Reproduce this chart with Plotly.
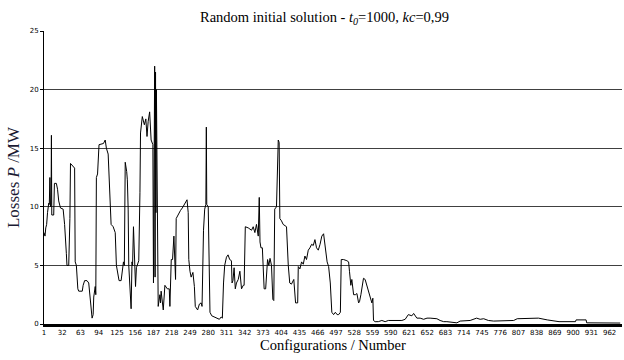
import plotly.graph_objects as go

# Configuration number (x) and losses P / MW (y)
cfg = [1, 2.7, 4, 5.5, 7, 9, 10, 11, 12, 13, 13.6, 14.2, 17.5, 18.7, 22, 24, 26, 29, 33.5, 36, 39, 40, 43, 45, 46,
       50, 53, 54, 56, 58.5, 60, 66, 67.5, 70, 74, 77, 79, 81, 82.7, 84.5, 85.5, 88, 89, 90, 92, 94.5, 102, 105,
       107, 110, 113, 115, 118.5, 122, 124, 126, 128.5, 132, 134, 136, 137.5, 139, 141.5, 142.6, 144, 145, 149,
       150.5, 151.5, 153, 154.5, 156.5, 158, 160, 162, 164, 165, 168, 171.5, 174, 176, 178, 180.5, 183, 186,
       187, 188, 189, 189.7, 190.5, 191.2, 192, 193, 195, 197.9, 199, 200, 203.6, 206.4, 210.5, 213.8, 214.9,
       217.2, 219.4, 221.7, 224.5, 225.6, 228.5, 233, 236, 239, 242, 244, 246, 247, 249, 251, 254, 256.5, 258,
       262, 265, 268, 269.5, 270.5, 272, 274, 276, 276.8, 277.5, 280, 281.5, 283, 286, 291, 294, 299, 302, 304,
       306, 308, 311, 313.7, 316.5, 319.4, 320.5, 322, 324, 326, 328, 331, 333.8, 335.5, 336.6, 339.5, 341, 343,
       348, 353.6, 356.4, 359.3, 362, 365, 366.7, 368, 369.6, 372, 373.6, 375, 377.6, 379, 380.8, 383, 385,
       387.5, 389.8, 391.4, 393, 396, 397.8, 399, 400.5, 401.7, 404.5, 407.3, 413, 414.8, 416, 418.5, 421.4,
       425.4, 427, 428.4, 432, 433, 435.8, 438.6, 441.5, 444.3, 447, 450, 452.8, 455.7, 458.5, 461.3, 464, 467,
       470, 473, 476, 478, 480, 482, 484.6, 487.4, 490, 493, 496, 499, 501.6, 504.5, 506, 510, 515.6, 518.5,
       520, 522.3, 524, 527, 530, 532.6, 535.5, 537, 539.4, 542, 543.8, 546.6, 549.5, 552, 555, 558, 559.7,
       560.8, 563.6, 569, 575, 580.6, 586, 592, 597.6, 603, 609, 614.6, 620, 626, 629, 634.5, 640, 646, 651.7,
       657, 663, 668.5, 674, 680, 685.5, 694, 702.5, 708, 725, 736, 742, 748, 756, 765, 782, 799, 805, 822, 841,
       856, 864, 876, 904, 905, 922, 923, 980]
loss = [7.8, 7.5, 8.2, 8.5, 9.5, 10.3, 10.2, 12.5, 10, 10.2, 16.1, 9.3, 9.3, 12, 12, 11.5, 10.5, 9.9, 9.8, 8.5, 6,
        5, 5, 9, 13.7, 13.5, 13.3, 5.3, 5, 3, 2.8, 2.8, 3.3, 3.7, 3.7, 3.5, 2.5, 1.5, 0.5, 0.8, 2.3, 3.2, 2.5, 12.5,
        12.8, 15.3, 15.4, 15.7, 15, 14.5, 10.5, 8.5, 8.3, 7.8, 5, 4.3, 3.7, 3.7, 4.5, 5.3, 5, 13.8, 13, 12.3, 9.8,
        5, 1.3, 5.3, 5, 8.3, 5, 3.2, 4.8, 5.2, 5.4, 11.2, 16.3, 17.7, 17, 17.5, 16, 17.3, 18.1, 15.7, 15.3,
        3.5, 15, 22, 4, 21.5, 9.5, 20, 9.5, 1.5, 2.5, 1.8, 2.8, 1.2, 3.3, 3, 3, 1.5,
        5.5, 5.5, 7.5, 3.8, 9, 9.3, 9.7, 9.9, 10.2, 10.5, 10.6, 9.5, 5.5, 4.5, 4, 4.4, 3.2, 1.5,
        1.2, 1.7, 1.8, 1.5, 6.5, 8, 9.8, 10.2, 16.8, 10.2, 10, 3.5, 1, 0.7, 0.6, 0.5, 0.4, 0.6, 0.5,
        3.5, 5, 5.7, 5.9, 5.5, 5.4, 3.5, 3.7, 4.8, 3.0, 3.5, 3.8, 4.5, 3.2, 3.0, 3.3, 3.3, 8.3,
        8.2, 8, 8.3, 7.8, 8.5, 7.5, 10.8, 7, 6.5, 6.5, 4.5, 3.0, 3.0, 4.5, 5.5, 5, 5.6,
        5.0, 2.1, 2.0, 9.8, 10, 14, 15.7, 15.5, 9, 8.8, 8.5, 8.3, 6, 5, 3.5, 3.4,
        3.8, 2.3, 1.8, 1.8, 4.9, 4.7, 5.3, 5.1, 5.8, 5.5, 6.3, 6.5, 6.8, 6.7, 7.2, 6.5, 6.3,
        6.8, 7.5, 7.7, 7, 6.3, 5.3, 4.9, 3.5, 1, 0.8, 1, 0.8, 0.8, 1, 5.5, 5.5, 5.4, 5.3,
        4.5, 3.3, 3.8, 2.5, 2.5, 2.6, 1.8, 1.9, 2.5, 3.5, 3.9, 3.8, 3.3, 2.8, 2.3, 1.8, 2.2,
        0.3, 0.2, 0.2, 0.3, 0.2, 0.3, 0.3, 0.35, 0.3, 0.3, 0.4, 0.8, 0.7, 0.9, 0.5, 0.5, 0.4, 0.5,
        0.5, 0.5, 0.45, 0.3, 0.2, 0.2, 0.15, 0.1, 0.25, 0.3, 0.5, 0.4, 0.45, 0.3, 0.25, 0.3, 0.3, 0.45, 0.5, 0.5,
        0.35, 0.3, 0.2, 0.2, 0.35, 0.35, 0.1, 0.08]

x_ticks = list(range(1, 963, 31))
x_tick_labels = [str(v) for v in x_ticks]
y_ticks = [0, 5, 10, 15, 20, 25]

fig = go.Figure()
fig.add_trace(go.Scatter(x=cfg, y=loss, mode="lines",
                         line=dict(color="black", width=1), showlegend=False, hoverinfo="skip"))

fig.update_layout(
    width=624, height=360,
    margin=dict(l=44, r=2, t=31, b=36, autoexpand=False),
    paper_bgcolor="white", plot_bgcolor="white",
    title=dict(text="Random initial solution - <i>t<sub>0</sub></i>=1000, <i>kc</i>=0,99",
               font=dict(family="Liberation Serif", size=14.5, color="black"),
               x=0.52, xanchor="center", y=0.953, yanchor="middle"),
    xaxis=dict(range=[1, 983], tickvals=x_ticks, ticktext=x_tick_labels,
               showgrid=False, zeroline=False, showline=True, linecolor="black", linewidth=3,
               ticks="", tickfont=dict(family="DejaVu Sans", size=7, color="black"),
               title=dict(text="Configurations / Number", standoff=4,
                          font=dict(family="Liberation Serif", size=14.5, color="black"))),
    yaxis=dict(range=[0, 25], tickvals=y_ticks, showgrid=True, gridcolor="#404040", gridwidth=1.3,
               zeroline=False, showline=True, linecolor="black", linewidth=1,
               ticks="outside", ticklen=3, tickcolor="black",
               tickfont=dict(family="DejaVu Sans", size=7, color="black"),
               title=dict(text="Losses <i>P</i> /MW", standoff=5,
                          font=dict(family="Liberation Serif", size=17, color="#1a1a33"))),
)

fig.write_html("out.html", config={"displayModeBar": False},
               post_script="document.body.style.margin='0';document.body.style.overflow='hidden';")
